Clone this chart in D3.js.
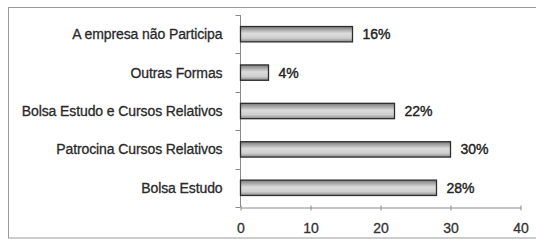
<!DOCTYPE html>
<html>
<head>
<meta charset="utf-8">
<script src="https://cdn.jsdelivr.net/npm/d3@7"></script>
<style>
  body { margin: 0; background: #fff; }
  text { font-family: "Liberation Sans", Arial, sans-serif; }
</style>
</head>
<body>
<div id="chart"></div>
<script>
// chart data, top to bottom
const categories = ["A empresa não Participa", "Outras Formas", "Bolsa Estudo e Cursos Relativos", "Patrocina Cursos Relativos", "Bolsa Estudo"];
const values = [16, 4, 22, 30, 28];
const valueLabels = ["16%", "4%", "22%", "30%", "28%"];
const xTicks = [0, 10, 20, 30, 40];

let width = 536, height = 242;
let plot = {left: 240.5, right: 520.5, top: 15, bottom: 207};

let svg = d3.select("#chart")
    .append("svg")
        .attr("width", width)
        .attr("height", height);

// bar fill
let grad = svg.append("defs").append("linearGradient")
    .attr("id", "barGrad")
    .attr("x1", 0).attr("y1", 0).attr("x2", 0).attr("y2", 1);
grad.append("stop").attr("offset", "0%").attr("stop-color", "#7a7a7a");
grad.append("stop").attr("offset", "45%").attr("stop-color", "#dcdcdc");
grad.append("stop").attr("offset", "75%").attr("stop-color", "#cfcfcf");
grad.append("stop").attr("offset", "100%").attr("stop-color", "#8a8a8a");

// outer frame
svg.append("rect")
    .attr("x", 8.5).attr("y", 7.5)
    .attr("width", 560).attr("height", 230.5)
    .attr("fill", "none")
    .attr("stroke", "#9a9a9a")
    .attr("stroke-width", 1);

let x = d3.scaleLinear()
    .domain([0, 40])
    .range([plot.left, plot.right]);

let y = d3.scaleBand()
    .domain(categories)
    .range([plot.top, plot.bottom])
    .paddingInner(0.6)
    .paddingOuter(0.3);

// x axis
let xAxis = svg.append("g")
    .attr("transform", `translate(0,${plot.bottom + 0.5})`)
    .call(d3.axisBottom(x).tickValues(xTicks).tickSize(3).tickSizeOuter(0).tickPadding(12.5));
xAxis.select(".domain").attr("stroke", "#8a8a8a");
xAxis.selectAll(".tick line").attr("stroke", "#8a8a8a").attr("y1", -2);
xAxis.selectAll(".tick text")
    .attr("fill", "#333")
    .attr("stroke", "#333")
    .attr("stroke-width", 0.3)
    .style("font-size", "14px");

// y axis with ticks between categories
let yAxisG = svg.append("g")
    .attr("transform", `translate(${plot.left},0)`);
yAxisG.append("line")
    .attr("y1", plot.top).attr("y2", plot.bottom)
    .attr("stroke", "#8a8a8a");
let step = (plot.bottom - plot.top) / categories.length;
yAxisG.selectAll(".ytick")
    .data(d3.range(categories.length + 1))
    .enter()
    .append("line")
        .attr("x1", -5).attr("x2", 0)
        .attr("y1", i => Math.round(plot.top + i * step) + 0.5)
        .attr("y2", i => Math.round(plot.top + i * step) + 0.5)
        .attr("stroke", "#8a8a8a");

svg.append("g")
    .selectAll("text")
    .data(categories)
    .enter()
    .append("text")
        .attr("x", plot.left - 18)
        .attr("y", d => y(d) + y.bandwidth() / 2)
        .attr("dy", "0.35em")
        .attr("text-anchor", "end")
        .attr("fill", "#2a2a2a")
        .attr("stroke", "#2a2a2a")
        .attr("stroke-width", 0.3)
        .style("font-size", "14px")
        .style("letter-spacing", "-0.1px")
        .text(d => d);

// bars
svg.append("g")
    .selectAll("rect")
    .data(values)
    .enter()
    .append("rect")
        .attr("x", x(0))
        .attr("y", (d, i) => y(categories[i]))
        .attr("width", d => x(d) - x(0))
        .attr("height", y.bandwidth())
        .attr("fill", "url(#barGrad)")
        .attr("stroke", "#2e2e2e")
        .attr("stroke-width", 1.3);

// value labels
svg.append("g")
    .selectAll("text")
    .data(values)
    .enter()
    .append("text")
        .attr("x", d => x(d) + 10)
        .attr("y", (d, i) => y(categories[i]) + y.bandwidth() / 2)
        .attr("dy", "0.35em")
        .attr("fill", "#222")
        .attr("stroke", "#222")
        .attr("stroke-width", 0.4)
        .style("font-size", "14px")
        .text((d, i) => valueLabels[i]);
</script>
</body>
</html>
